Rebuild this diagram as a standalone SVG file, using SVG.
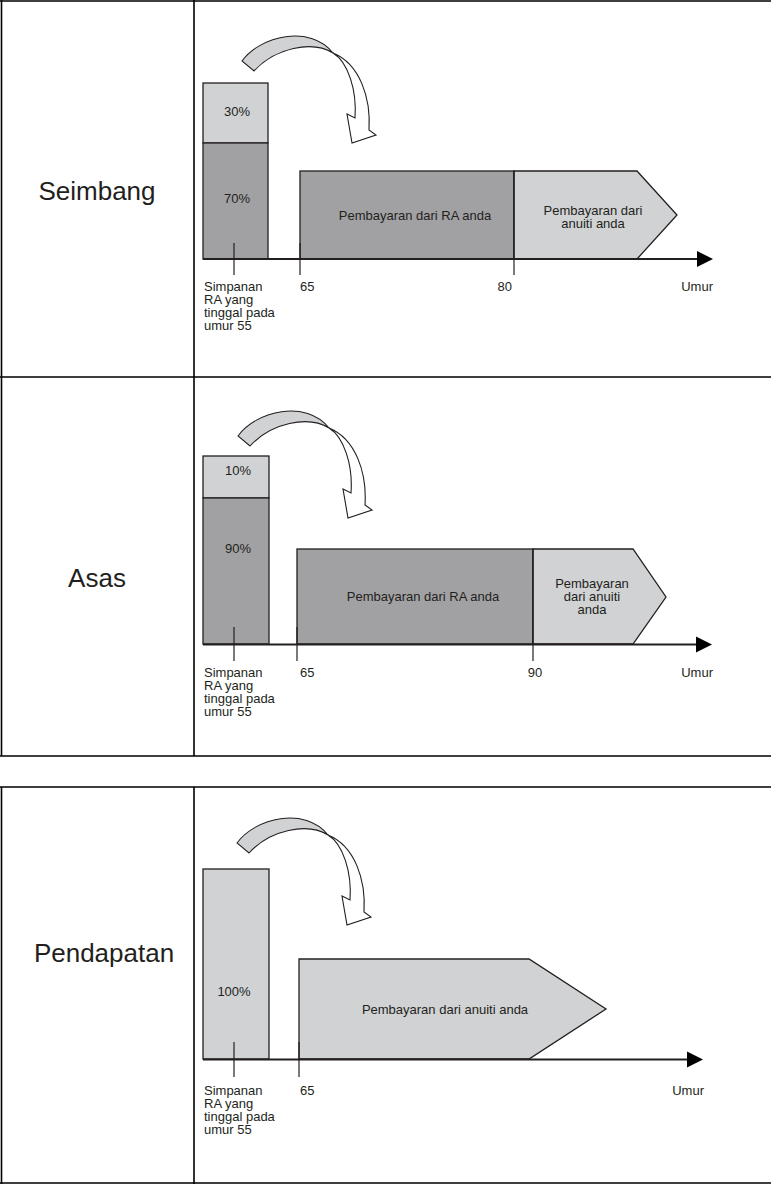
<svg xmlns="http://www.w3.org/2000/svg" width="771" height="1184" viewBox="0 0 771 1184">
<style>
.t{font-family:"Liberation Sans",Arial,Helvetica,sans-serif;font-size:13px;fill:#231f20}
.lbl{font-size:26px;text-anchor:middle}
.c{text-anchor:middle}
.e{text-anchor:end}
.dk{fill:#a1a1a3;stroke:#231f20;stroke-width:1.3}
.lt{fill:#d1d2d4;stroke:#231f20;stroke-width:1.3}
.ax{stroke:#231f20;stroke-width:2;fill:none}
.ah{fill:#000}
.tk{stroke:#231f20;stroke-width:1.2}
.grid{stroke:#000;stroke-width:1.6;fill:none}
.sw1{fill:#d1d2d4;stroke:#231f20;stroke-width:1.1}
.sw2{fill:#fff;stroke:#231f20;stroke-width:1.1}
</style>
<defs>
<g id="swoosh">
<path class="sw2" d="M333,53 C348,62 357,90 355,118 L347,114 L352,143 L376,135 L369,130 C371,98 360,64 333,53 Z"/>
<path class="sw1" d="M242,61 C260,36 310,24 333,53 C312,40 275,48 254,71 Z"/>
</g>
</defs>
<rect width="771" height="1184" fill="#fff"/>
<g id="table">
<path class="grid" d="M0,1 H771 M0,377 H771 M0,756 H771 M1.5,0 V756 M194,0 V756"/>
<path class="grid" d="M0,787 H771 M0,1183 H771 M1.5,787 V1184 M194,787 V1184"/>
</g>

<g id="panel-seimbang">
<g id="label-seimbang"><text class="t lbl" x="97" y="200">Seimbang</text></g>
<g id="transfer-1"><use href="#swoosh"/></g>
<g id="bar-1">
<rect class="lt" x="203" y="83" width="65" height="60"/>
<rect class="dk" x="203" y="143" width="65" height="116"/>
<text class="t c" x="237" y="115.5">30%</text>
<text class="t c" x="237" y="202.5">70%</text>
</g>
<g id="ra-1">
<rect class="dk" x="300" y="171" width="214" height="88"/>
<text class="t c" x="415" y="219.5">Pembayaran dari RA anda</text>
</g>
<g id="annuity-1">
<polygon class="lt" points="514,171 637,171 677,215 637,259 514,259"/>
<text class="t c" x="593" y="215">Pembayaran dari</text>
<text class="t c" x="593" y="228">anuiti anda</text>
</g>
<g id="axis-1">
<line class="ax" x1="203" y1="259" x2="698" y2="259"/>
<polygon class="ah" points="697,251 713,259 697,267"/>
<line class="tk" x1="234" y1="243" x2="234" y2="275"/>
<line class="tk" x1="300" y1="243" x2="300" y2="275"/>
<line class="tk" x1="514" y1="171" x2="514" y2="275"/>
<text class="t" x="300" y="291">65</text>
<text class="t e" x="512" y="291">80</text>
<text class="t e" x="713" y="291">Umur</text>
<text class="t" x="204" y="291">Simpanan</text>
<text class="t" x="204" y="304">RA yang</text>
<text class="t" x="204" y="317">tinggal pada</text>
<text class="t" x="204" y="330">umur 55</text>
</g>
</g>

<g id="panel-asas">
<g id="label-asas"><text class="t lbl" x="97" y="587">Asas</text></g>
<g id="transfer-2"><use href="#swoosh" transform="translate(-4,375)"/></g>
<g id="bar-2">
<rect class="lt" x="203" y="456" width="66" height="42"/>
<rect class="dk" x="203" y="498" width="66" height="146"/>
<text class="t c" x="238" y="474.5">10%</text>
<text class="t c" x="238" y="552.5">90%</text>
</g>
<g id="ra-2">
<rect class="dk" x="297" y="549" width="236" height="95"/>
<text class="t c" x="423" y="601">Pembayaran dari RA anda</text>
</g>
<g id="annuity-2">
<polygon class="lt" points="533,549 633,549 666,597 633,644 533,644"/>
<text class="t c" x="592" y="588">Pembayaran</text>
<text class="t c" x="592" y="601">dari anuiti</text>
<text class="t c" x="592" y="614">anda</text>
</g>
<g id="axis-2">
<line class="ax" x1="203" y1="644.5" x2="697" y2="644.5"/>
<polygon class="ah" points="696,636.5 712,644.5 696,652.5"/>
<line class="tk" x1="234" y1="627" x2="234" y2="661"/>
<line class="tk" x1="297" y1="627" x2="297" y2="661"/>
<line class="tk" x1="533" y1="549" x2="533" y2="661"/>
<text class="t" x="300" y="677">65</text>
<text class="t c" x="535" y="677">90</text>
<text class="t e" x="713" y="677">Umur</text>
<text class="t" x="204" y="677">Simpanan</text>
<text class="t" x="204" y="690">RA yang</text>
<text class="t" x="204" y="703">tinggal pada</text>
<text class="t" x="204" y="716">umur 55</text>
</g>
</g>

<g id="panel-pendapatan">
<g id="label-pendapatan"><text class="t lbl" x="104" y="962">Pendapatan</text></g>
<g id="transfer-3"><use href="#swoosh" transform="translate(-5,782)"/></g>
<g id="bar-3">
<rect class="lt" x="203" y="869" width="66" height="190"/>
<text class="t c" x="234" y="995.5">100%</text>
</g>
<g id="annuity-3">
<polygon class="lt" points="299,959 529,959 606,1009 529,1059 299,1059"/>
<text class="t c" x="445" y="1013.5">Pembayaran dari anuiti anda</text>
</g>
<g id="axis-3">
<line class="ax" x1="203" y1="1059.5" x2="688" y2="1059.5"/>
<polygon class="ah" points="687,1051.5 703,1059.5 687,1067.5"/>
<line class="tk" x1="234" y1="1042" x2="234" y2="1077"/>
<line class="tk" x1="299" y1="1042" x2="299" y2="1077"/>
<text class="t" x="300" y="1094.5">65</text>
<text class="t e" x="704" y="1094.5">Umur</text>
<text class="t" x="204" y="1094.5">Simpanan</text>
<text class="t" x="204" y="1107.5">RA yang</text>
<text class="t" x="204" y="1120.5">tinggal pada</text>
<text class="t" x="204" y="1133.5">umur 55</text>
</g>
</g>
</svg>
